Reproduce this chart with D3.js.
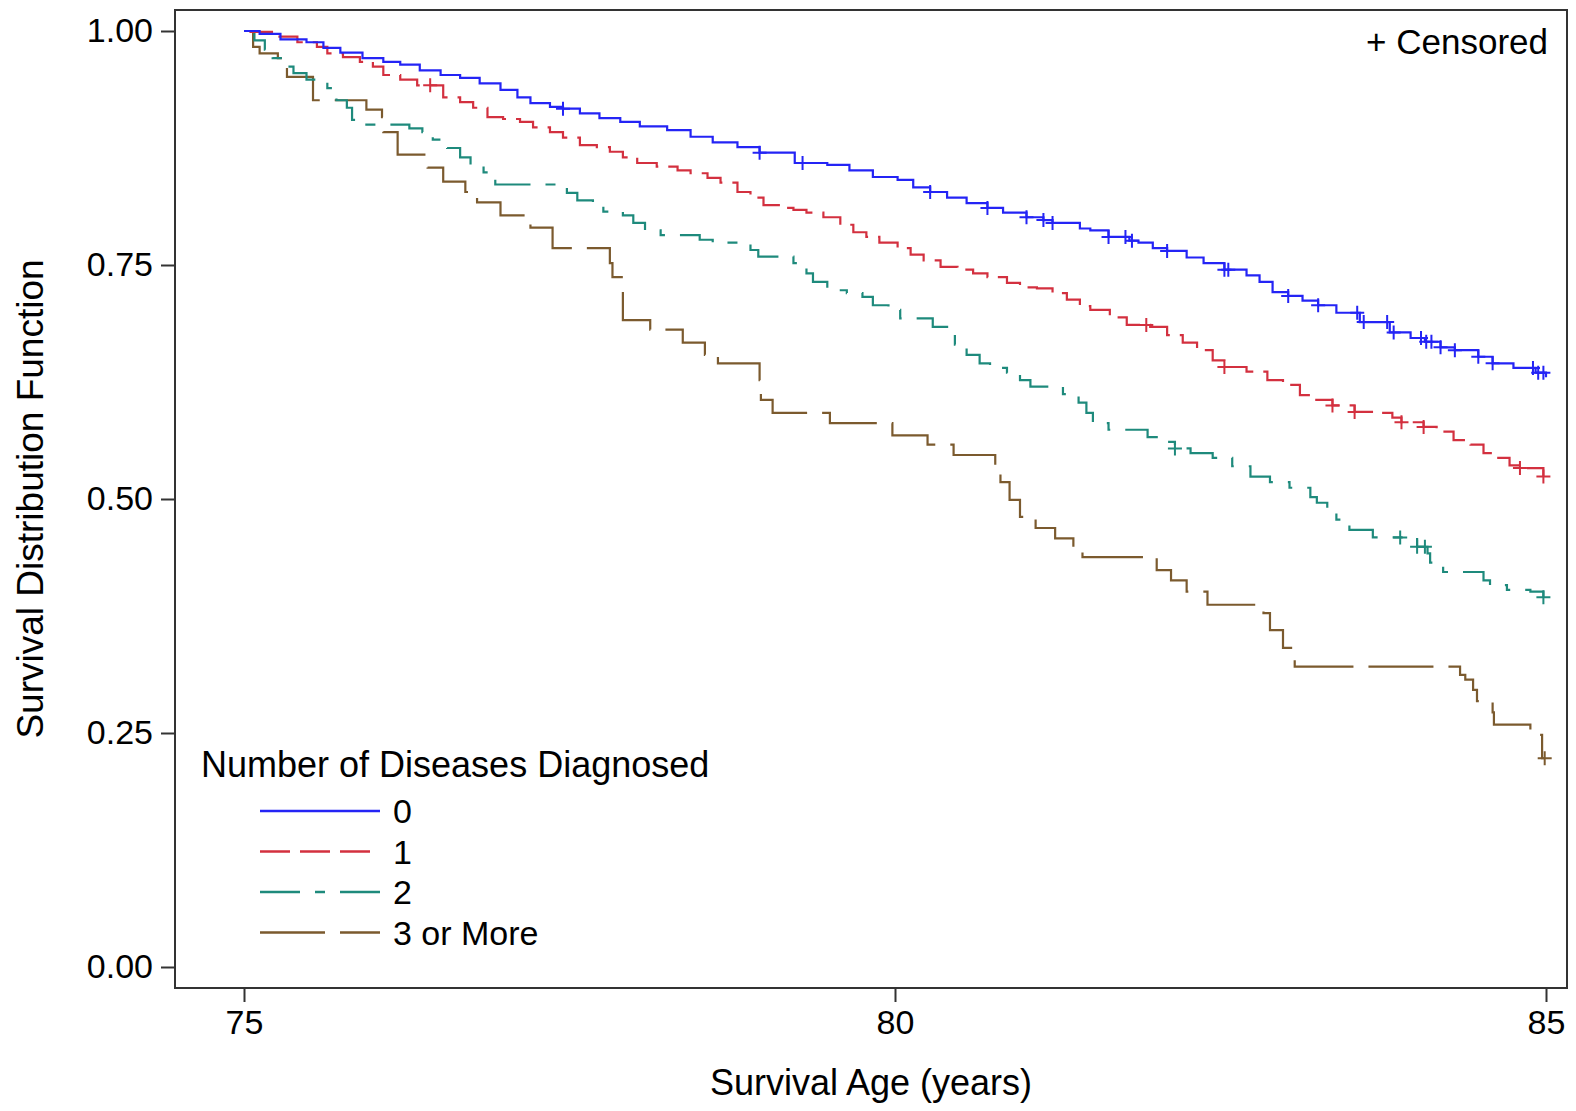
<!DOCTYPE html>
<html>
<head>
<meta charset="utf-8">
<script src="https://cdn.jsdelivr.net/npm/d3@7"></script>
<style>
  body { margin: 0; background: #fff; }
  svg text { font-family: "Liberation Sans", Arial, sans-serif; fill: #000; }
</style>
</head>
<body>
<div id="chart"></div>
<script>
// survival steps: [age, survival after the drop]
var group0Steps = [[75, 1.0], [75.12, 0.997], [75.28, 0.991], [75.48, 0.988], [75.61, 0.982], [75.74, 0.977],
    [75.91, 0.971], [76.07, 0.967], [76.20, 0.964], [76.35, 0.958], [76.51, 0.953], [76.66, 0.950],
    [76.81, 0.944], [76.97, 0.937], [77.10, 0.929], [77.20, 0.923], [77.35, 0.919], [77.45, 0.917],
    [77.58, 0.912], [77.73, 0.907], [77.89, 0.903], [78.04, 0.898], [78.25, 0.894], [78.43, 0.887],
    [78.60, 0.881], [78.79, 0.876], [78.96, 0.870], [79.23, 0.859], [79.48, 0.857], [79.65, 0.851],
    [79.83, 0.844], [80.02, 0.841], [80.14, 0.833], [80.27, 0.828], [80.40, 0.822], [80.55, 0.816],
    [80.71, 0.811], [80.83, 0.806], [81.01, 0.801], [81.14, 0.798], [81.21, 0.795], [81.42, 0.789],
    [81.50, 0.787], [81.64, 0.780], [81.80, 0.776], [81.87, 0.774], [81.98, 0.768], [82.09, 0.765],
    [82.24, 0.758], [82.37, 0.752], [82.53, 0.745], [82.70, 0.739], [82.80, 0.732], [82.90, 0.721],
    [83.02, 0.717], [83.13, 0.712], [83.25, 0.707], [83.39, 0.699], [83.57, 0.689], [83.80, 0.678],
    [83.96, 0.672], [84.07, 0.668], [84.19, 0.662], [84.30, 0.659], [84.48, 0.652], [84.59, 0.645],
    [84.75, 0.640], [84.92, 0.635], [85.0, 0.630]];

var group1Steps = [[75, 1.0], [75.05, 0.999], [75.25, 0.994], [75.41, 0.988], [75.56, 0.983], [75.64, 0.976],
    [75.76, 0.972], [75.89, 0.967], [75.99, 0.962], [76.07, 0.953], [76.20, 0.948], [76.33, 0.942],
    [76.53, 0.929], [76.66, 0.924], [76.76, 0.918], [76.87, 0.908], [76.99, 0.906], [77.12, 0.903],
    [77.22, 0.897], [77.35, 0.892], [77.45, 0.886], [77.58, 0.878], [77.71, 0.876], [77.81, 0.871],
    [77.91, 0.865], [78.02, 0.859], [78.17, 0.855], [78.33, 0.851], [78.43, 0.848], [78.56, 0.843],
    [78.66, 0.838], [78.79, 0.828], [78.89, 0.822], [78.99, 0.814], [79.12, 0.811], [79.22, 0.809],
    [79.32, 0.806], [79.45, 0.801], [79.58, 0.793], [79.68, 0.785], [79.78, 0.780], [79.88, 0.774],
    [80.02, 0.768], [80.12, 0.761], [80.22, 0.755], [80.35, 0.748], [80.48, 0.745], [80.60, 0.741],
    [80.71, 0.737], [80.86, 0.731], [80.96, 0.726], [81.09, 0.725], [81.21, 0.720], [81.32, 0.713],
    [81.42, 0.706], [81.50, 0.702], [81.65, 0.694], [81.78, 0.686], [81.96, 0.684], [82.09, 0.675],
    [82.21, 0.667], [82.32, 0.659], [82.44, 0.648], [82.53, 0.641], [82.70, 0.636], [82.86, 0.627],
    [82.98, 0.622], [83.11, 0.611], [83.21, 0.606], [83.36, 0.600], [83.53, 0.593], [83.70, 0.592],
    [83.82, 0.587], [83.89, 0.582], [84.06, 0.577], [84.16, 0.572], [84.29, 0.563], [84.42, 0.558],
    [84.52, 0.549], [84.61, 0.544], [84.72, 0.536], [84.80, 0.533], [84.98, 0.524]];

var group2Steps = [[75, 1.0], [75.08, 0.990], [75.16, 0.980], [75.22, 0.971], [75.34, 0.962], [75.38, 0.955],
    [75.48, 0.948], [75.64, 0.939], [75.71, 0.926], [75.79, 0.918], [75.83, 0.905], [75.94, 0.900],
    [76.27, 0.896], [76.37, 0.892], [76.45, 0.884], [76.56, 0.875], [76.66, 0.865], [76.74, 0.857],
    [76.84, 0.849], [76.93, 0.836], [77.48, 0.827], [77.56, 0.819], [77.68, 0.816], [77.76, 0.807],
    [77.91, 0.803], [77.99, 0.795], [78.08, 0.787], [78.20, 0.782], [78.50, 0.777], [78.60, 0.774],
    [78.89, 0.766], [78.95, 0.759], [79.22, 0.752], [79.32, 0.741], [79.37, 0.732], [79.48, 0.723],
    [79.63, 0.720], [79.75, 0.716], [79.83, 0.707], [79.95, 0.702], [80.04, 0.693], [80.29, 0.684],
    [80.40, 0.678], [80.46, 0.665], [80.55, 0.654], [80.65, 0.645], [80.73, 0.640], [80.86, 0.635],
    [80.96, 0.627], [81.04, 0.620], [81.29, 0.612], [81.41, 0.603], [81.47, 0.592], [81.52, 0.581],
    [81.64, 0.574], [81.94, 0.566], [82.01, 0.561], [82.15, 0.554], [82.27, 0.549], [82.44, 0.544],
    [82.59, 0.535], [82.73, 0.524], [82.88, 0.518], [83.03, 0.512], [83.19, 0.502], [83.24, 0.496],
    [83.32, 0.488], [83.39, 0.478], [83.49, 0.467], [83.67, 0.459], [84.01, 0.449], [84.09, 0.442],
    [84.11, 0.432], [84.21, 0.422], [84.52, 0.413], [84.57, 0.408], [84.70, 0.403], [84.88, 0.401],
    [84.98, 0.395]];

var group3Steps = [[75, 1.0], [75.07, 0.983], [75.12, 0.976], [75.26, 0.971], [75.33, 0.951], [75.53, 0.926],
    [75.94, 0.916], [76.06, 0.908], [76.07, 0.892], [76.18, 0.868], [76.41, 0.854], [76.53, 0.839],
    [76.70, 0.828], [76.79, 0.817], [76.97, 0.803], [77.20, 0.790], [77.37, 0.768], [77.81, 0.752],
    [77.83, 0.737], [77.91, 0.691], [78.12, 0.681], [78.37, 0.667], [78.54, 0.654], [78.64, 0.645],
    [78.96, 0.627], [78.97, 0.606], [79.06, 0.592], [79.50, 0.581], [79.98, 0.568], [80.25, 0.558],
    [80.45, 0.547], [80.77, 0.533], [80.81, 0.518], [80.88, 0.499], [80.96, 0.481], [81.08, 0.469],
    [81.23, 0.458], [81.37, 0.443], [81.44, 0.438], [82.01, 0.424], [82.12, 0.413], [82.24, 0.401],
    [82.40, 0.387], [82.83, 0.378], [82.88, 0.360], [82.98, 0.341], [83.07, 0.321], [84.34, 0.312],
    [84.38, 0.307], [84.44, 0.296], [84.47, 0.284], [84.59, 0.272], [84.60, 0.259], [84.88, 0.248],
    [84.97, 0.223], [84.99, 0.223]];

// censored ages
var group0Censor = [77.45, 78.96, 79.29, 80.27, 80.71, 81.01, 81.14, 81.21, 81.64, 81.77, 81.82, 82.09, 82.53, 82.56,
    83.02, 83.25, 83.55, 83.60, 83.78, 83.83, 84.04, 84.08, 84.12, 84.19, 84.30, 84.48, 84.59, 84.90, 84.94, 84.98];
var group1Censor = [76.43, 81.93, 82.53, 83.36, 83.53, 83.89, 84.06, 84.80, 84.98];
var group2Censor = [82.15, 83.88, 84.01, 84.07, 84.98];
var group3Censor = [84.99];

var groupNames = ["0", "1", "2", "3 or More"];
var groupColors = ["#2424f5", "#d3303f", "#1e8a7c", "#7b5a2e"];
var groupDashes = ["none", "30,10", "40,15,10,15", "65,15"];

var xTicks = [75, 80, 85];
var yTicks = [0, 0.25, 0.5, 0.75, 1];

var width = 1576;
var height = 1111;
var frame = {left: 175, top: 10, right: 1567, bottom: 988};

var svg = d3.select("#chart").append("svg")
    .attr("width", width)
    .attr("height", height);

svg.append("rect").attr("width", width).attr("height", height).attr("fill", "#fff");

var x = d3.scaleLinear().domain([75, 85]).range([244, 1546]);
var y = d3.scaleLinear().domain([0, 1]).range([967, 31]);

var steps = [group0Steps, group1Steps, group2Steps, group3Steps];
var censors = [group0Censor, group1Censor, group2Censor, group3Censor];

var line = d3.line()
    .x(function (d) { return x(d[0]); })
    .y(function (d) { return y(d[1]); })
    .curve(d3.curveStepAfter);

// value of the step curve at age t
function survivalAt(data, t) {
    var s = data[0][1];
    for (var i = 0; i < data.length; i++) {
        if (data[i][0] <= t) s = data[i][1];
    }
    return s;
}

// draw order: brown at the bottom, blue on top
[3, 2, 1, 0].forEach(function (g) {
    svg.append("path")
        .datum(steps[g])
        .attr("d", line)
        .attr("fill", "none")
        .attr("stroke", groupColors[g])
        .attr("stroke-width", 2.2)
        .attr("stroke-dasharray", groupDashes[g]);

    svg.selectAll(".cens" + g)
        .data(censors[g])
        .enter()
        .append("path")
        .attr("class", "cens" + g)
        .attr("d", function (t) {
            var cx = x(t), cy = y(survivalAt(steps[g], t));
            return "M" + (cx - 7) + "," + cy + "H" + (cx + 7) + "M" + cx + "," + (cy - 7) + "V" + (cy + 7);
        })
        .attr("stroke", groupColors[g])
        .attr("stroke-width", 2)
        .attr("fill", "none");
});

// frame
svg.append("rect")
    .attr("x", frame.left)
    .attr("y", frame.top)
    .attr("width", frame.right - frame.left)
    .attr("height", frame.bottom - frame.top)
    .attr("fill", "none")
    .attr("stroke", "#333")
    .attr("stroke-width", 2);

// axes
var yAxis = svg.append("g")
    .attr("transform", "translate(" + frame.left + ",0)")
    .call(d3.axisLeft(y).tickValues(yTicks).tickFormat(d3.format(".2f")).tickSize(14).tickPadding(8));

var xAxis = svg.append("g")
    .attr("transform", "translate(0," + frame.bottom + ")")
    .call(d3.axisBottom(x).tickValues(xTicks).tickSize(14).tickPadding(8));

[xAxis, yAxis].forEach(function (a) {
    a.select(".domain").remove();
    a.selectAll(".tick line").attr("stroke", "#333").attr("stroke-width", 2);
    a.selectAll(".tick text").attr("font-size", "34px").attr("fill", "#000")
        .style("font-family", "'Liberation Sans', Arial, sans-serif");
});

// axis titles
svg.append("text")
    .attr("x", (frame.left + frame.right) / 2)
    .attr("y", 1095)
    .attr("text-anchor", "middle")
    .attr("font-size", "36px")
    .text("Survival Age (years)");

svg.append("text")
    .attr("transform", "translate(43," + (frame.top + frame.bottom) / 2 + ") rotate(-90)")
    .attr("text-anchor", "middle")
    .attr("font-size", "37px")
    .text("Survival Distribution Function");

// censored note
svg.append("text")
    .attr("x", 1548)
    .attr("y", 54)
    .attr("text-anchor", "end")
    .attr("font-size", "35px")
    .text("+ Censored");

// legend
var legend = svg.append("g");
legend.append("text")
    .attr("x", 201)
    .attr("y", 777)
    .attr("font-size", "36px")
    .text("Number of Diseases Diagnosed");

var legendItems = legend.selectAll(".item")
    .data(groupNames)
    .enter()
    .append("g")
    .attr("class", "item")
    .attr("transform", function (d, i) { return "translate(0," + (811 + i * 40.5) + ")"; });

legendItems.append("line")
    .attr("x1", 260)
    .attr("x2", function (d, i) { return i === 1 ? 370 : 380; })
    .attr("stroke", function (d, i) { return groupColors[i]; })
    .attr("stroke-width", 2.5)
    .attr("stroke-dasharray", function (d, i) { return groupDashes[i]; });

legendItems.append("text")
    .attr("x", 393)
    .attr("y", 12)
    .attr("font-size", "34px")
    .text(function (d) { return d; });
</script>
</body>
</html>
